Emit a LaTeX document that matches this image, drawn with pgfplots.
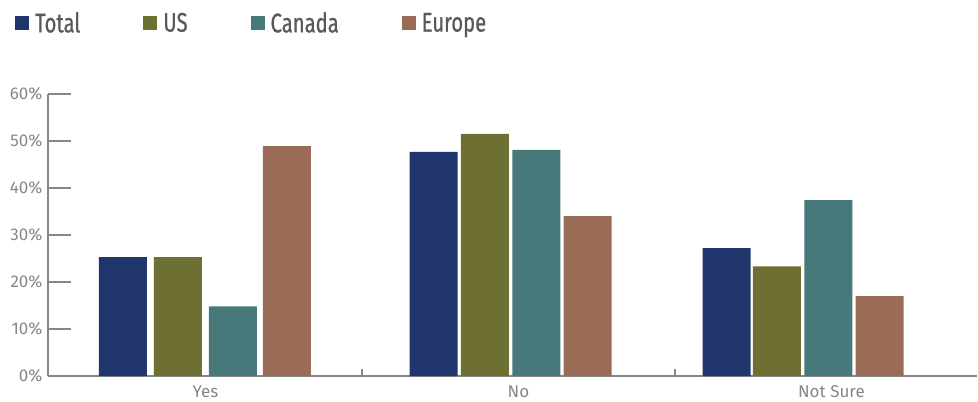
\documentclass[border=0pt]{standalone}
\usepackage{pgfplots}
\pgfplotsset{compat=1.18}
\usepackage{fontspec}
\setmainfont{Fira Sans}
\newfontfamily\legfont{Fira Sans}[FakeStretch=0.75, FakeBold=0.7]
\definecolor{ctotal}{HTML}{1F356B}
\definecolor{cus}{HTML}{6E6F32}
\definecolor{ccanada}{HTML}{47787A}
\definecolor{ceurope}{HTML}{9A6B56}
\definecolor{axisgray}{HTML}{85878A}
\definecolor{tickgray}{HTML}{85878A}
\definecolor{legtext}{HTML}{58595B}
\begin{document}
\begin{tikzpicture}
\begin{axis}[name=ax,
  scale only axis, width=929bp, height=282bp,
  xmin=-0.503, xmax=2.465, ymin=0, ymax=60,
  axis x line*=bottom, axis y line*=left,
  axis line style={-, draw=axisgray, line width=1.3bp},
  ytick={0,10,20,30,40,50,60},
  yticklabels={0\%,10\%,20\%,30\%,40\%,50\%,60\%},
  tick align=inside, major tick length=23bp,
  ytick style={draw=axisgray, line width=1.3bp},
  xtick={0,1,2}, xticklabels={Yes,No,Not Sure},
  xtick style={draw=none},
  extra x ticks={0.5,1.5}, extra x tick labels={},
  extra x tick style={xtick style={draw=axisgray, line width=1.3bp, /pgfplots/major tick length=7bp}},
  tick label style={font=\fontsize{17bp}{19bp}\selectfont, text=tickgray},
  xticklabel style={yshift=-6bp},
  yticklabel style={xshift=-2bp},
  legend columns=4,
  legend image code/.code={\fill[#1] (0bp,-7bp) rectangle (14bp,7bp);},
  legend style={at={(axis description cs:-0.0355,1.2518)}, anchor=west,
    draw=none, fill=none, inner sep=0pt,
    font=\legfont\fontsize{27bp}{30bp}\selectfont, text=legtext,
    nodes={inner sep=0pt},
    /tikz/every odd column/.append style={column sep=6bp},
    /tikz/every even column/.append style={column sep=63bp}},
]
\addplot[ybar, bar width=48bp, bar shift=0pt, fill=ctotal, draw=none]
  coordinates {(-0.2636,25.3) (0.729,47.7) (1.665,27.2)};
\addlegendentry{Total}
\addplot[ybar, bar width=48bp, bar shift=0pt, fill=cus, draw=none]
  coordinates {(-0.0879,25.3) (0.893,51.5) (1.826,23.3)};
\addlegendentry{US}
\addplot[ybar, bar width=48bp, bar shift=0pt, fill=ccanada, draw=none]
  coordinates {(0.0879,14.8) (1.057,48.1) (1.990,37.4)};
\addlegendentry{Canada}
\addplot[ybar, bar width=48bp, bar shift=0pt, fill=ceurope, draw=none]
  coordinates {(0.2604,48.9) (1.221,34.0) (2.154,17.0)};
\addlegendentry{Europe}
\end{axis}
\pgfresetboundingbox
\path (ax.south west) ++(-48bp,-26bp) rectangle ++(978bp,402bp);
\end{tikzpicture}
\end{document}
